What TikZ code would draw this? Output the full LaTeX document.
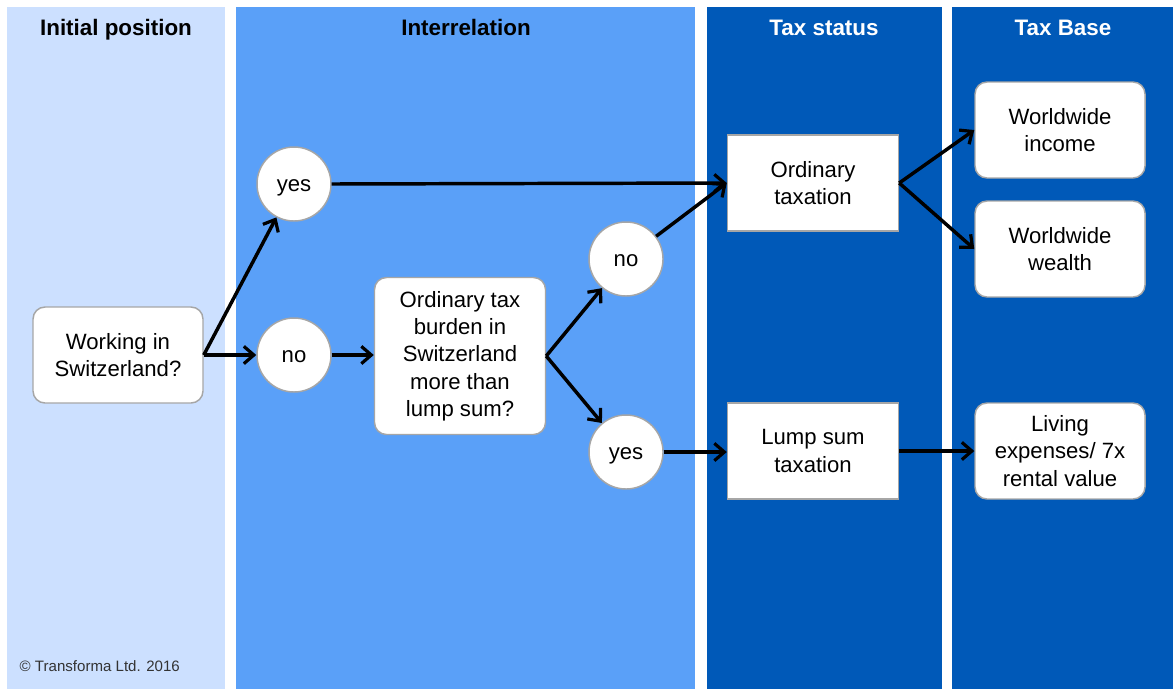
\documentclass[tikz,border=0pt]{standalone}
\usepackage{fontspec}
\setmainfont{Liberation Sans}
\usetikzlibrary{arrows.meta}
\definecolor{pA}{HTML}{CCE0FF}
\definecolor{pB}{HTML}{5AA0F8}
\definecolor{pC}{HTML}{0059B8}
\definecolor{bord}{HTML}{A6A6A6}
\definecolor{copyc}{HTML}{333333}
\begin{document}
\begin{tikzpicture}[x=0.75pt,y=-0.75pt,
  head/.style={font=\fontsize{16.8}{20}\selectfont\bfseries, anchor=center, text height=12pt, text depth=3.5pt},
  body/.style={font=\fontsize{16.6}{20.5}\selectfont, align=center, text=black},
  rbox/.style={body, draw=bord, line width=1.1pt, fill=white, rounded corners=9pt,
    minimum width={170*0.75pt}, minimum height={96*0.75pt}, inner sep=0pt},
  sbox/.style={body, draw=bord, line width=1.1pt, fill=white,
    minimum width={171*0.75pt}, minimum height={96*0.75pt}, inner sep=0pt},
  circ/.style={font=\fontsize{16.6}{20.5}\selectfont, text=black, circle, draw=bord, line width=1.1pt, fill=white,
    minimum size={74*0.75pt}, inner sep=0pt, text height=11.5pt, text depth=0pt},
  arr/.style={-{Straight Barb[length=7.5pt,width=13pt,line width=2.4pt]}, line width=2.6pt, black}
]
\useasboundingbox (0,0) rectangle (1173,689);
\fill[white] (0,0) rectangle (1173,689);
% panels
\fill[pA] (7,7) rectangle (225,689);
\fill[pB] (236,7) rectangle (695,689);
\fill[pC] (707,7) rectangle (942,689);
\fill[pC] (952,7) rectangle (1173,689);
% headers
\node[head, text=black] (h1) at (116,30) {Initial position};
\node[head, text=black] (h2) at (466,30) {Interrelation};
\node[head, text=white] (h3) at (824,30) {Tax status};
\node[head, text=white] (h4) at (1063,30) {Tax Base};
% nodes
\node[rbox] (work) at (118,355) {Working in\\Switzerland?};
\node[circ] (yes1) at (294,184) {yes};
\node[circ] (no1) at (294,355) {no};
\node[rbox, minimum width={171*0.75pt}, minimum height={157*0.75pt}] (burden) at (460,356)
  {Ordinary tax\\burden in\\Switzerland\\more than\\lump sum?};
\node[circ] (no2) at (626,259) {no};
\node[circ] (yes2) at (626,452) {yes};
\node[sbox] (ord) at (813,183) {Ordinary\\taxation};
\node[sbox] (lump) at (813,451) {Lump sum\\taxation};
\node[rbox] (inc) at (1060,130) {Worldwide\\income};
\node[rbox] (wea) at (1060,249) {Worldwide\\wealth};
\node[rbox] (liv) at (1060,451) {Living\\expenses/ 7x\\rental value};
% connectors
\draw[arr] (work.east) -- (yes1);
\draw[arr] (work.east) -- (no1.west);
\draw[arr] (no1.east) -- (burden.west |- no1.east);
\draw[arr] (yes1.east) -- (ord.west);
\draw[arr] (burden.east) -- (no2);
\draw[arr] (burden.east) -- (yes2);
\draw[arr] (no2) -- (ord.west);
\draw[arr] (yes2.east) -- (lump.west |- yes2.east);
\draw[arr] (ord.east) -- (inc.west);
\draw[arr] (ord.east) -- (wea.west);
\draw[arr] (lump.east) -- (liv.west);
% copyright
\node[anchor=west, text=copyc, font=\fontsize{11.3}{13}\selectfont] (copy) at (15,666) {© Transforma Ltd. 2016};
\end{tikzpicture}
\end{document}
